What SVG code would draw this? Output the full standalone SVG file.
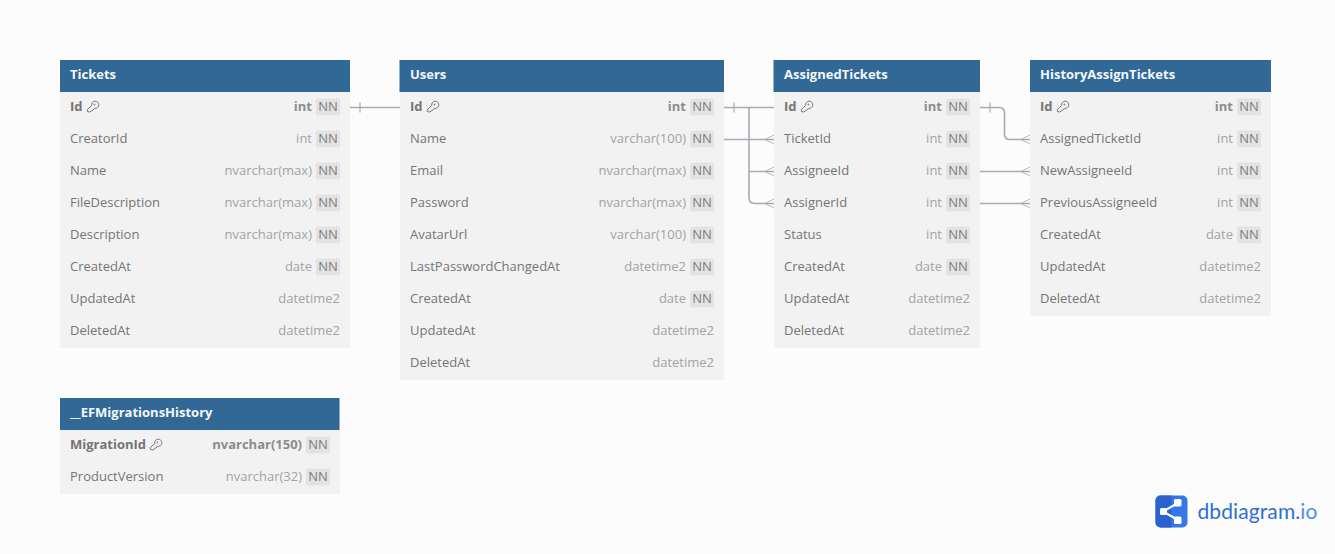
<svg xmlns="http://www.w3.org/2000/svg" width="1335" height="554" viewBox="0 0 1335 554">
<style>
text{font-family:"Open Sans","Noto Sans",sans-serif;font-size:13px;fill:#757575}
.hd{fill:#316896}.bd{fill:#f2f2f2}
.t{font-weight:700;fill:#f5f7fa;font-size:13px}
.pk{font-weight:700}
.ty{text-anchor:end;fill:#a3a3a3}
.typk{text-anchor:end;fill:#8c8c8c;font-weight:700}
.nn{fill:#e3e3e3}
.nt{text-anchor:middle;fill:#7d7d7d}
.c{fill:none;stroke:#a9a9b4;stroke-width:2}
.f{fill:none;stroke:#b4b4bd;stroke-width:1}
.k{fill:none;stroke:#777;stroke-width:1}
</style>
<defs>
<g id="key"><path class="k" d="M-4.500 5L-4.800 3.200L-0.300 -1A3.600 3.600 0 1 1 3 1.900L-2.200 5.500Z"/><circle class="k" cx="2.400" cy="-2" r="0.500"/></g>
<rect id="b" class="nn" x="0" y="-8.500" width="24" height="17" rx="2"/>
<path id="cf" class="f" d="M9 -4.500L0 0L9 4.500"/>
</defs>
<rect width="1335" height="554" fill="#fcfcfd"/>
<g id="connectors">
<path class="c" d="M350 107.500H400M724 107.500H774M749 107.500V197.500Q749 203.500 755 203.500H774M749 171.500H774M724 139.500H774M980 107.500H999Q1004.500 107.500 1004.500 113V134Q1004.500 139.500 1010 139.500H1030M980 171.500H1030M980 203.500H1030" style="stroke-width:1.600"/>
<path class="c" d="M360 102.500V112.500M734 102.500V112.500M990 102.500V112.500" style="stroke-width:1.200"/>
<g transform="translate(765 139.500)"><use href="#cf"/></g>
<g transform="translate(765 171.500)"><use href="#cf"/></g>
<g transform="translate(765 203.500)"><use href="#cf"/></g>
<g transform="translate(1021 139.500)"><use href="#cf"/></g>
<g transform="translate(1021 171.500)"><use href="#cf"/></g>
<g transform="translate(1021 203.500)"><use href="#cf"/></g>
</g>
<g id="Tickets">
<rect class="bd" x="60" y="60" width="290" height="288"/><rect class="hd" x="60" y="60" width="290" height="32"/>
<text class="t" x="70" y="79">Tickets</text>
<text class="pk" x="70" y="111">Id</text><use href="#key" x="92" y="106.500"/><text class="typk" x="312" y="111">int</text><use href="#b" x="316" y="107"/><text class="nt" x="328" y="111">NN</text>
<text x="70" y="143">CreatorId</text><text class="ty" x="312" y="143">int</text><use href="#b" x="316" y="139"/><text class="nt" x="328" y="143">NN</text>
<text x="70" y="175">Name</text><text class="ty" x="312" y="175">nvarchar(max)</text><use href="#b" x="316" y="171"/><text class="nt" x="328" y="175">NN</text>
<text x="70" y="207">FileDescription</text><text class="ty" x="312" y="207">nvarchar(max)</text><use href="#b" x="316" y="203"/><text class="nt" x="328" y="207">NN</text>
<text x="70" y="239">Description</text><text class="ty" x="312" y="239">nvarchar(max)</text><use href="#b" x="316" y="235"/><text class="nt" x="328" y="239">NN</text>
<text x="70" y="271">CreatedAt</text><text class="ty" x="312" y="271">date</text><use href="#b" x="316" y="267"/><text class="nt" x="328" y="271">NN</text>
<text x="70" y="303">UpdatedAt</text><text class="ty" x="340" y="303">datetime2</text>
<text x="70" y="335">DeletedAt</text><text class="ty" x="340" y="335">datetime2</text>
</g>
<g id="Users">
<rect class="bd" x="400" y="60" width="324" height="320"/><rect class="hd" x="399.500" y="60" width="324.500" height="32"/>
<text class="t" x="410" y="79">Users</text>
<text class="pk" x="410" y="111">Id</text><use href="#key" x="432" y="106.500"/><text class="typk" x="686" y="111">int</text><use href="#b" x="690" y="107"/><text class="nt" x="702" y="111">NN</text>
<text x="410" y="143">Name</text><text class="ty" x="686" y="143">varchar(100)</text><use href="#b" x="690" y="139"/><text class="nt" x="702" y="143">NN</text>
<text x="410" y="175">Email</text><text class="ty" x="686" y="175">nvarchar(max)</text><use href="#b" x="690" y="171"/><text class="nt" x="702" y="175">NN</text>
<text x="410" y="207">Password</text><text class="ty" x="686" y="207">nvarchar(max)</text><use href="#b" x="690" y="203"/><text class="nt" x="702" y="207">NN</text>
<text x="410" y="239">AvatarUrl</text><text class="ty" x="686" y="239">varchar(100)</text><use href="#b" x="690" y="235"/><text class="nt" x="702" y="239">NN</text>
<text x="410" y="271">LastPasswordChangedAt</text><text class="ty" x="686" y="271">datetime2</text><use href="#b" x="690" y="267"/><text class="nt" x="702" y="271">NN</text>
<text x="410" y="303">CreatedAt</text><text class="ty" x="686" y="303">date</text><use href="#b" x="690" y="299"/><text class="nt" x="702" y="303">NN</text>
<text x="410" y="335">UpdatedAt</text><text class="ty" x="714" y="335">datetime2</text>
<text x="410" y="367">DeletedAt</text><text class="ty" x="714" y="367">datetime2</text>
</g>
<g id="AssignedTickets">
<rect class="bd" x="774" y="60" width="206" height="288"/><rect class="hd" x="773.500" y="60" width="206.500" height="32"/>
<text class="t" x="784" y="79">AssignedTickets</text>
<text class="pk" x="784" y="111">Id</text><use href="#key" x="806" y="106.500"/><text class="typk" x="942" y="111">int</text><use href="#b" x="946" y="107"/><text class="nt" x="958" y="111">NN</text>
<text x="784" y="143">TicketId</text><text class="ty" x="942" y="143">int</text><use href="#b" x="946" y="139"/><text class="nt" x="958" y="143">NN</text>
<text x="784" y="175">AssigneeId</text><text class="ty" x="942" y="175">int</text><use href="#b" x="946" y="171"/><text class="nt" x="958" y="175">NN</text>
<text x="784" y="207">AssignerId</text><text class="ty" x="942" y="207">int</text><use href="#b" x="946" y="203"/><text class="nt" x="958" y="207">NN</text>
<text x="784" y="239">Status</text><text class="ty" x="942" y="239">int</text><use href="#b" x="946" y="235"/><text class="nt" x="958" y="239">NN</text>
<text x="784" y="271">CreatedAt</text><text class="ty" x="942" y="271">date</text><use href="#b" x="946" y="267"/><text class="nt" x="958" y="271">NN</text>
<text x="784" y="303">UpdatedAt</text><text class="ty" x="970" y="303">datetime2</text>
<text x="784" y="335">DeletedAt</text><text class="ty" x="970" y="335">datetime2</text>
</g>
<g id="HistoryAssignTickets">
<rect class="bd" x="1030" y="60" width="241" height="256"/><rect class="hd" x="1030" y="60" width="241" height="32"/>
<text class="t" x="1040" y="79">HistoryAssignTickets</text>
<text class="pk" x="1040" y="111">Id</text><use href="#key" x="1062" y="106.500"/><text class="typk" x="1233" y="111">int</text><use href="#b" x="1237" y="107"/><text class="nt" x="1249" y="111">NN</text>
<text x="1040" y="143">AssignedTicketId</text><text class="ty" x="1233" y="143">int</text><use href="#b" x="1237" y="139"/><text class="nt" x="1249" y="143">NN</text>
<text x="1040" y="175">NewAssigneeId</text><text class="ty" x="1233" y="175">int</text><use href="#b" x="1237" y="171"/><text class="nt" x="1249" y="175">NN</text>
<text x="1040" y="207">PreviousAssigneeId</text><text class="ty" x="1233" y="207">int</text><use href="#b" x="1237" y="203"/><text class="nt" x="1249" y="207">NN</text>
<text x="1040" y="239">CreatedAt</text><text class="ty" x="1233" y="239">date</text><use href="#b" x="1237" y="235"/><text class="nt" x="1249" y="239">NN</text>
<text x="1040" y="271">UpdatedAt</text><text class="ty" x="1261" y="271">datetime2</text>
<text x="1040" y="303">DeletedAt</text><text class="ty" x="1261" y="303">datetime2</text>
</g>
<g id="EFMigrationsHistory">
<rect class="bd" x="60" y="398" width="280" height="96"/><rect class="hd" x="60" y="398" width="279.500" height="32"/>
<text class="t" x="70" y="417">__EFMigrationsHistory</text>
<text class="pk" x="70" y="449">MigrationId</text><use href="#key" x="155" y="444.500"/><text class="typk" x="302" y="449">nvarchar(150)</text><use href="#b" x="306" y="445"/><text class="nt" x="318" y="449">NN</text>
<text x="70" y="481">ProductVersion</text><text class="ty" x="302" y="481">nvarchar(32)</text><use href="#b" x="306" y="477"/><text class="nt" x="318" y="481">NN</text>
</g>
<g id="logo">
<rect x="1155.500" y="495.500" width="32" height="32" rx="5" fill="#3577e6"/>
<path d="M1155.500 511.500V500.500a5 5 0 0 1 5-5h11v32h-11a5 5 0 0 1-5-5z" fill="#2b62cf"/>
<path d="M1163 511.500L1178 503M1163 511.500L1178 520" stroke="#fff" stroke-width="2.200" fill="none"/>
<rect x="1160" y="508" width="7" height="7" rx="1.500" fill="#fff"/><rect x="1174" y="499" width="7.500" height="7.500" rx="1.500" fill="#fff"/><rect x="1174" y="516.500" width="7.500" height="7.500" rx="1.500" fill="#fff"/>
<text x="1197.500" y="519" style="font-family:Lato,sans-serif;font-size:21px;fill:#2f6fd0;letter-spacing:.1px">dbdiagram.<tspan style="fill:#4f8fee">io</tspan></text>
</g>
</svg>
